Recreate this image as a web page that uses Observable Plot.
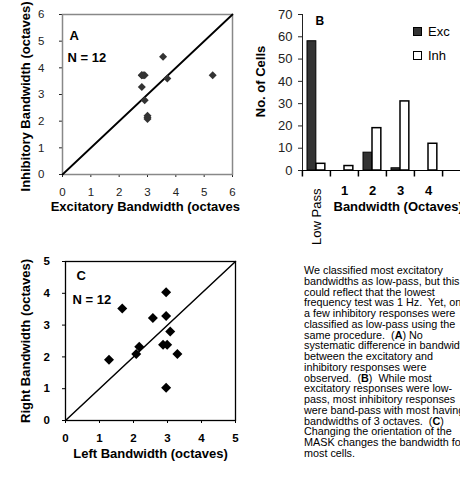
<!DOCTYPE html>
<html>
<head>
<meta charset="utf-8">
<script src="https://cdn.jsdelivr.net/npm/d3@7"></script>
<script src="https://cdn.jsdelivr.net/npm/@observablehq/plot@0.6"></script>
<style>
  html, body { margin: 0; padding: 0; background: #fff; overflow: hidden; }
  #fig { position: relative; width: 460px; height: 490px; overflow: hidden; background: #fff;
         font-family: "Liberation Sans", Arial, sans-serif; }
  #fig > * { position: absolute; }
  #fig svg { overflow: hidden; }
  .legend-row { position: absolute; display: flex; align-items: center; font-size: 13px; color: #000; }
  .legend-swatch { width: 9px; height: 9px; box-sizing: border-box; margin-right: 6px; }
  #caption { left: 304px; top: 265px; font-size: 10.8px; line-height: 10.75px; white-space: pre; color: #000; }
</style>
</head>
<body>
<div id="fig"></div>
<script>
// ---------- Data ----------
// Panel A: excitatory vs inhibitory bandwidth (octaves), N = 12
const excBandwidth = [3.55, 2.80, 2.90, 2.85, 3.70, 2.80, 2.90, 3.00, 3.00, 3.00, 5.30, 2.80];
const inhBandwidth = [4.42, 3.72, 3.72, 3.72, 3.60, 3.28, 2.78, 2.20, 2.08, 2.14, 3.72, 3.72];
const ticksA = [0, 1, 2, 3, 4, 5, 6];
const panelA = {letter: "A", n: "N = 12", xTitle: "Excitatory Bandwidth (octaves)", yTitle: "Inhibitory Bandwidth (octaves)"};

// Panel B: number of cells per bandwidth class
const bandCategories = ["Low Pass", "1", "2", "3", "4"];
const excCounts = [58, 0, 8, 1, 0];
const inhCounts = [3, 2, 19, 31, 12];
const seriesNames = ["Exc", "Inh"];
const countTicks = [0, 10, 20, 30, 40, 50, 60, 70];
const panelB = {letter: "B", xTitle: "Bandwidth (Octaves)", yTitle: "No. of Cells"};

// Panel C: left vs right bandwidth (octaves), N = 12
const leftBandwidth  = [1.28, 1.67, 2.08, 2.17, 2.57, 2.96, 2.96, 3.08, 2.87, 2.99, 3.29, 2.96];
const rightBandwidth = [1.91, 3.52, 2.09, 2.32, 3.22, 4.03, 3.29, 2.80, 2.38, 2.38, 2.09, 1.03];
const ticksC = [0, 1, 2, 3, 4, 5];
const panelC = {letter: "C", n: "N = 12", xTitle: "Left Bandwidth (octaves)", yTitle: "Right Bandwidth (octaves)"};

const captionLines = [
  "We classified most excitatory",
  "bandwidths as low-pass, but this",
  "could reflect that the lowest",
  "frequency test was 1 Hz.  Yet, only",
  "a few inhibitory responses were",
  "classified as low-pass using the",
  "same procedure.  (<b>A</b>) No",
  "systematic difference in bandwidth",
  "between the excitatory and",
  "inhibitory responses were",
  "observed.  (<b>B</b>)  While most",
  "excitatory responses were low-",
  "pass, most inhibitory responses",
  "were band-pass with most having",
  "bandwidths of 3 octaves.  (<b>C</b>)",
  "Changing the orientation of the",
  "MASK changes the bandwidth for",
  "most cells."
];

// ---------- Helpers ----------
const FONT = '"Liberation Sans", Arial, sans-serif';
const intFmt = d => String(d);
const diamond = {
  draw(ctx, size) {
    const r = Math.sqrt(size / Math.PI);
    ctx.moveTo(0, -r); ctx.lineTo(r, 0); ctx.lineTo(0, r); ctx.lineTo(-r, 0); ctx.closePath();
  }
};
const downTick = {
  draw(ctx) { ctx.moveTo(0, 0); ctx.lineTo(0, 6); }
};
const fig = document.getElementById("fig");
function place(node, left, top) {
  node.style.position = "absolute";
  node.style.left = left + "px";
  node.style.top = top + "px";
  fig.appendChild(node);
}

// ---------- Panel A ----------
const extA = d3.extent(ticksA);
const plotA = Plot.plot({
  width: 240, height: 225,
  marginLeft: 62, marginRight: 8, marginTop: 14, marginBottom: 51,
  style: {fontFamily: FONT, fontSize: "11.5px", color: "#222", background: "transparent", overflow: "hidden"},
  x: {domain: extA, ticks: ticksA, tickFormat: intFmt, tickSize: 3, tickPadding: 10.5, label: null},
  y: {domain: extA, ticks: ticksA, tickFormat: intFmt, tickSize: 3, tickPadding: 15, label: null},
  marks: [
    Plot.frame({stroke: "#888", strokeWidth: 1.5}),
    Plot.line(extA, {x: d => d, y: d => d, stroke: "#000", strokeWidth: 1.8}),
    Plot.dot(excBandwidth, {x: d => d, y: (d, i) => inhBandwidth[i], symbol: diamond, r: 4, fill: "#333", stroke: "none"}),
    Plot.text([panelA.letter], {frameAnchor: "top-left", dx: 7, dy: 16, textAnchor: "start", fontWeight: "bold", fontSize: 13, fill: "#000"}),
    Plot.text([panelA.n], {frameAnchor: "top-left", dx: 5, dy: 38, textAnchor: "start", fontWeight: "bold", fontSize: 13, fill: "#000"}),
    Plot.text([panelA.xTitle], {frameAnchor: "bottom", dy: 36, textAnchor: "middle", fontWeight: "bold", fontSize: 13, fill: "#000"}),
    Plot.text([panelA.yTitle], {frameAnchor: "left", dx: -37, dy: 2, rotate: -90, textAnchor: "middle", fontWeight: "bold", fontSize: 13, fill: "#000"})
  ]
});
place(plotA, 0, 0);

// ---------- Panel B ----------
const W_B = 240, ML_B = 62, MR_B = 9;
const bandStep = (W_B - ML_B - MR_B) / (bandCategories.length + 1);
const barW = 9, barGap = 5;
const barRows = bandCategories.flatMap((c, i) => [
  {category: c, series: seriesNames[0], count: excCounts[i]},
  {category: c, series: seriesNames[1], count: inhCounts[i]}
]).filter(d => d.count > 0);
const plotB = Plot.plot({
  width: W_B, height: 250,
  marginLeft: ML_B, marginRight: MR_B, marginTop: 14, marginBottom: 80,
  style: {fontFamily: FONT, fontSize: "13px", color: "#222", background: "transparent", overflow: "hidden"},
  x: {domain: bandCategories, paddingInner: 0, paddingOuter: 0.5, align: 0, axis: null},
  y: {domain: d3.extent(countTicks), ticks: countTicks, tickFormat: intFmt, tickSize: 4, tickPadding: 6, line: true, label: null},
  marks: [
    Plot.barY(barRows.filter(d => d.series === seriesNames[0]), {
      x: "category", y: "count", fill: "#333", stroke: "#000", strokeWidth: 1,
      insetLeft: barGap, insetRight: bandStep - barGap - barW
    }),
    Plot.barY(barRows.filter(d => d.series === seriesNames[1]), {
      x: "category", y: "count", fill: "#fff", stroke: "#000", strokeWidth: 1.5,
      insetLeft: barGap + barW, insetRight: bandStep - barGap - 2 * barW
    }),
    Plot.ruleY([0], {stroke: "#000", strokeWidth: 1}),
    Plot.dot(bandCategories, {x: d => d, y: () => 0, symbol: downTick, fill: "none", stroke: "#000", dx: -bandStep / 2}),
    Plot.dot(bandCategories.slice(-1), {x: d => d, y: () => 0, symbol: downTick, fill: "none", stroke: "#000", dx: bandStep / 2}),
    Plot.text(bandCategories.slice(1), {x: d => d, y: () => 0, dy: 20.5, fontWeight: "bold", fontSize: 13, fill: "#000"}),
    Plot.text(bandCategories.slice(0, 1), {x: d => d, y: () => 0, dy: 18, rotate: -90, textAnchor: "end", fontSize: 13, fill: "#000"}),
    Plot.text([panelB.letter], {frameAnchor: "top-left", dx: 13, dy: 1.5, textAnchor: "start", fontWeight: "bold", fontSize: 12, fill: "#000"}),
    Plot.text([panelB.xTitle], {frameAnchor: "bottom-left", dx: 31, dy: 40, textAnchor: "start", fontWeight: "bold", fontSize: 13, fill: "#000"}),
    Plot.text([panelB.yTitle], {frameAnchor: "left", dx: -42, dy: -11, rotate: -90, textAnchor: "middle", fontWeight: "bold", fontSize: 13, fill: "#000"})
  ]
});
place(plotB, 240, 0);

// Legend for panel B
const legendStyles = [
  {bg: "#333", border: "1px solid #000", top: 26},
  {bg: "#fff", border: "1.5px solid #000", top: 50}
];
seriesNames.forEach((name, i) => {
  const row = document.createElement("div");
  row.className = "legend-row";
  row.style.left = "413px";
  row.style.top = legendStyles[i].top + "px";
  row.style.height = "10px";
  const sw = document.createElement("span");
  sw.className = "legend-swatch";
  sw.style.background = legendStyles[i].bg;
  sw.style.border = legendStyles[i].border;
  const lab = document.createElement("span");
  lab.textContent = name;
  row.appendChild(sw); row.appendChild(lab);
  fig.appendChild(row);
});

// ---------- Panel C ----------
const extC = d3.extent(ticksC);
const plotC = Plot.plot({
  width: 250, height: 250,
  marginLeft: 65, marginRight: 15, marginTop: 21, marginBottom: 70,
  style: {fontFamily: FONT, fontSize: "11.5px", fontWeight: "bold", color: "#000", background: "transparent", overflow: "hidden"},
  x: {domain: extC, ticks: ticksC, tickFormat: intFmt, tickSize: 3, tickPadding: 10, label: null},
  y: {domain: extC, ticks: ticksC, tickFormat: intFmt, tickSize: 3, tickPadding: 12.5, label: null},
  marks: [
    Plot.frame({stroke: "#000", strokeWidth: 1.3}),
    Plot.line(extC, {x: d => d, y: d => d, stroke: "#000", strokeWidth: 1.5}),
    Plot.dot(leftBandwidth, {x: d => d, y: (d, i) => rightBandwidth[i], symbol: diamond, r: 5, fill: "#000", stroke: "none"}),
    Plot.text([panelC.letter], {frameAnchor: "top-left", dx: 11, dy: 9, textAnchor: "start", fontWeight: "bold", fontSize: 13, fill: "#000"}),
    Plot.text([panelC.n], {frameAnchor: "top-left", dx: 7, dy: 33, textAnchor: "start", fontWeight: "bold", fontSize: 13, fill: "#000"}),
    Plot.text([panelC.xTitle], {frameAnchor: "bottom", dy: 37, textAnchor: "middle", fontWeight: "bold", fontSize: 13, fill: "#000"}),
    Plot.text([panelC.yTitle], {frameAnchor: "left", dx: -40, rotate: -90, textAnchor: "middle", fontWeight: "bold", fontSize: 13, fill: "#000"})
  ]
});
place(plotC, 0, 240);

// ---------- Caption ----------
const cap = document.createElement("div");
cap.id = "caption";
cap.innerHTML = captionLines.join("\n");
fig.appendChild(cap);
</script>
</body>
</html>
